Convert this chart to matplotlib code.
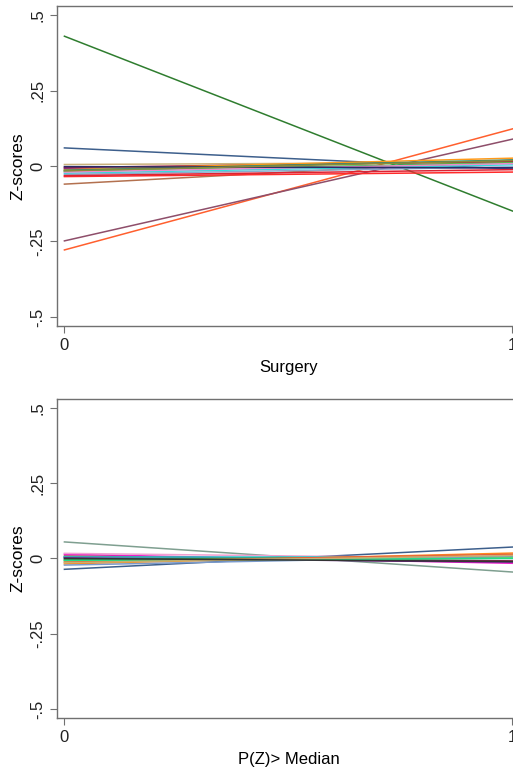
import numpy as np
import matplotlib
matplotlib.use("Agg")
import matplotlib.pyplot as plt

plt.rcParams["font.family"] = ["Liberation Sans", "DejaVu Sans"]

x_pos = [0, 1]
y_ticks = [-0.5, -0.25, 0, 0.25, 0.5]
y_tick_labels = ["-.5", "-.25", "0", ".25", ".5"]

# Surgery panel: value at 0 and at 1 for each line
surg_colors = ["#2f7d2f", "#ff5f2e", "#8e4e6a", "#3d5f8c", "#b3714f", "#ff2a2a",
               "#c9b27c", "#a0203a", "#7a1a8a", "#ff9a1a", "#22cc33", "#2a8a7a",
               "#33dddd", "#ee88cc", "#8aaacc", "#dd2233", "#2a2a66", "#8a8a3a"]
surg_at0 = [0.430, -0.278, -0.248, 0.060, -0.060, -0.035,
            0.005, -0.005, -0.008, -0.012, -0.018, -0.014,
            -0.024, -0.020, -0.028, -0.032, -0.002, -0.016]
surg_at1 = [-0.149, 0.123, 0.089, -0.010, 0.020, -0.020,
            0.012, 0.015, -0.005, 0.026, 0.010, 0.020,
            0.004, 0.008, -0.003, -0.012, -0.006, 0.018]

# P(Z)> Median panel
med_colors = ["#7f9f90", "#3d5f8c", "#ee22cc", "#f0a0d0", "#8e2a4a", "#22cccc",
              "#6a1a8a", "#2fa040", "#66dd66", "#ff8c1a", "#e8603a", "#7a9acc",
              "#22dd88", "#c8b070", "#333333"]
med_at0 = [0.055, -0.036, 0.014, 0.017, 0.008, 0.004,
           0.002, -0.004, -0.008, -0.018, -0.012, -0.022,
           -0.006, -0.014, 0.000]
med_at1 = [-0.045, 0.038, -0.016, 0.000, -0.008, 0.004,
           -0.012, 0.006, 0.002, 0.018, 0.014, 0.008,
           0.000, 0.010, -0.010]


def draw_panel(ax, at0, at1, colors, xlabel):
    for a, b, c in zip(at0, at1, colors):
        ax.plot(x_pos, [a, b], color=c, lw=1.1)
    ax.set_xlim(-0.0167, 1.0167)
    ax.set_ylim(-0.53, 0.53)
    ax.set_xticks(x_pos)
    ax.set_xticklabels(["0", "1"])
    ax.set_yticks(y_ticks)
    ax.set_yticklabels(y_tick_labels, rotation=90, va="center")
    ax.set_ylabel("Z-scores", fontsize=12.5, labelpad=3)
    ax.set_xlabel(xlabel, fontsize=12, labelpad=5)
    for s in ax.spines.values():
        s.set_color("#707070")
        s.set_linewidth(1.0)
    ax.tick_params(colors="#707070", labelcolor="#222222", labelsize=12, length=5)


fig = plt.figure(figsize=(5.13, 7.74), dpi=100)
ax1 = fig.add_axes([0.111, 0.5788, 0.9025, 0.4134])
ax2 = fig.add_axes([0.111, 0.0724, 0.9025, 0.4121])

draw_panel(ax1, surg_at0, surg_at1, surg_colors, "Surgery")
draw_panel(ax2, med_at0, med_at1, med_colors, "P(Z)> Median")

fig.savefig("out.png", dpi=100)
